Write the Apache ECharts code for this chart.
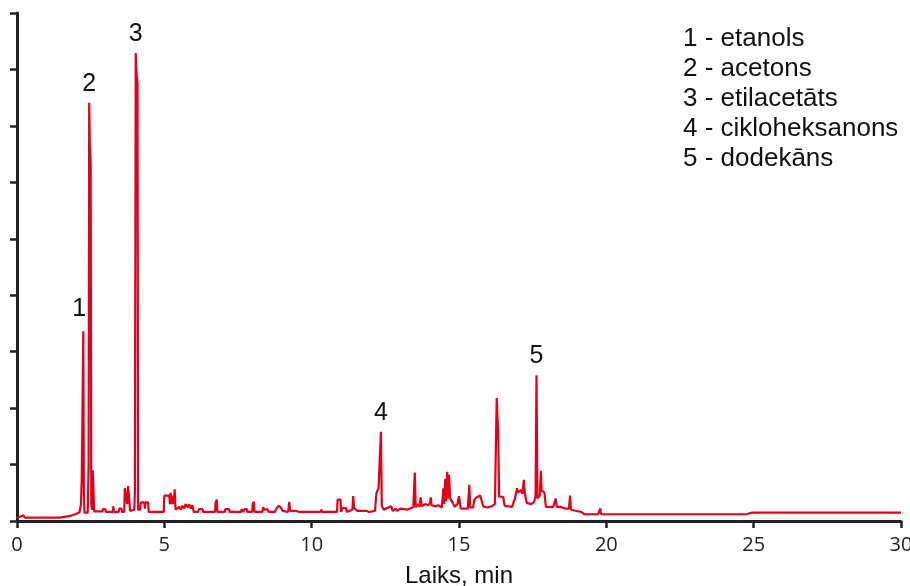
<!DOCTYPE html>
<html>
<head>
<meta charset="utf-8">
<script src="https://cdn.jsdelivr.net/npm/echarts@6/dist/echarts.min.js"></script>
<style>
  html, body { margin: 0; padding: 0; background: #fff; }
  #chart { width: 910px; height: 586px; }
</style>
</head>
<body>
<div id="chart"></div>
<script>
// x ticks (min)
const xTicks = [0, 5, 10, 15, 20, 25, 30]

// chromatogram trace: [retention time, response]
const trace = [
  [0, 0.06], [0.08, 0.07], [0.1, 0.1], [0.22, 0.1], [0.27, 0.06], [1.45, 0.06], [1.47, 0.09],
  [1.8, 0.09], [1.82, 0.12], [1.97, 0.12], [1.99, 0.15], [2.12, 0.15],
  [2.17, 0.3], [2.2, 0.78], [2.22, 0.8], [2.25, 3.36], [2.27, 0.5], [2.29, 0.15], [2.4, 0.15],
  [2.43, 1.0], [2.45, 7.41], [2.47, 6.67], [2.5, 6.35], [2.52, 0.3], [2.55, 0.2], [2.57, 0.9],
  [2.6, 0.9], [2.62, 0.17], [2.9, 0.17], [2.92, 0.21], [3.0, 0.21], [3.02, 0.16], [3.25, 0.16],
  [3.27, 0.26], [3.29, 0.16], [3.45, 0.16], [3.47, 0.22], [3.55, 0.22], [3.57, 0.16], [3.64, 0.16],
  [3.66, 0.58], [3.72, 0.6], [3.74, 0.3], [3.77, 0.62], [3.82, 0.62], [3.84, 0.18], [3.98, 0.2],
  [4.0, 0.5], [4.03, 8.29], [4.06, 7.9], [4.09, 7.75], [4.11, 0.2], [4.18, 0.2], [4.2, 0.33],
  [4.32, 0.33], [4.34, 0.22], [4.36, 0.33], [4.45, 0.33], [4.47, 0.16], [4.98, 0.16],
  [5.0, 0.45], [5.17, 0.45], [5.19, 0.3], [5.21, 0.5], [5.25, 0.3], [5.27, 0.45], [5.33, 0.3],
  [5.35, 0.56], [5.38, 0.2], [5.5, 0.25], [5.56, 0.2], [5.6, 0.27], [5.68, 0.22], [5.72, 0.3],
  [5.8, 0.24], [5.84, 0.3], [5.9, 0.22], [5.95, 0.28], [6.0, 0.16], [6.15, 0.16], [6.17, 0.21],
  [6.3, 0.21], [6.32, 0.16], [6.72, 0.16], [6.74, 0.33], [6.78, 0.38], [6.8, 0.16], [7.05, 0.16],
  [7.07, 0.21], [7.2, 0.21], [7.22, 0.16], [7.6, 0.16], [7.62, 0.21], [7.68, 0.16], [7.72, 0.21],
  [7.8, 0.21], [7.82, 0.16], [7.98, 0.16], [8.0, 0.3], [8.04, 0.34], [8.06, 0.16], [8.33, 0.16],
  [8.35, 0.24], [8.4, 0.2], [8.5, 0.21], [8.55, 0.16], [8.75, 0.16], [8.8, 0.22], [8.88, 0.27],
  [8.95, 0.24], [9.02, 0.18], [9.2, 0.16], [9.24, 0.34], [9.27, 0.18], [9.45, 0.18], [9.5, 0.21],
  [9.6, 0.16], [10.3, 0.16], [10.33, 0.2], [10.36, 0.16], [10.86, 0.16], [10.88, 0.38],
  [10.98, 0.38], [11.0, 0.16], [11.05, 0.23], [11.17, 0.23], [11.19, 0.16], [11.38, 0.2],
  [11.41, 0.44], [11.44, 0.23], [11.55, 0.18], [11.85, 0.18], [11.9, 0.2], [11.95, 0.16],
  [12.15, 0.18], [12.2, 0.5], [12.27, 0.58], [12.32, 0.6], [12.35, 1.58], [12.38, 0.27],
  [12.45, 0.2], [12.6, 0.24], [12.7, 0.26], [12.75, 0.18], [12.85, 0.22], [12.9, 0.18],
  [13.0, 0.22], [13.25, 0.2], [13.45, 0.25], [13.5, 0.86], [13.53, 0.24], [13.6, 0.3],
  [13.66, 0.26], [13.7, 0.42], [13.73, 0.26], [13.85, 0.3], [13.95, 0.28], [14.02, 0.32],
  [14.04, 0.42], [14.07, 0.28], [14.2, 0.26], [14.3, 0.28], [14.42, 0.24], [14.47, 0.58],
  [14.5, 0.3], [14.53, 0.75], [14.56, 0.35], [14.6, 0.87], [14.63, 0.4], [14.66, 0.82],
  [14.7, 0.4], [14.78, 0.33], [14.85, 0.25],
  [14.95, 0.3], [15.0, 0.44], [15.03, 0.46], [15.06, 0.22], [15.3, 0.22], [15.35, 0.64],
  [15.38, 0.24], [15.48, 0.24], [15.52, 0.38], [15.6, 0.42], [15.72, 0.45], [15.78, 0.42],
  [15.82, 0.26], [15.95, 0.24], [16.1, 0.26], [16.22, 0.3], [16.28, 2.18], [16.31, 1.79],
  [16.33, 1.6], [16.36, 0.43], [16.5, 0.43], [16.55, 0.27], [16.8, 0.25], [16.9, 0.4],
  [16.97, 0.58], [17.0, 0.5], [17.1, 0.55], [17.15, 0.48], [17.2, 0.73], [17.23, 0.5],
  [17.3, 0.32], [17.45, 0.3], [17.55, 0.34], [17.6, 0.45], [17.63, 2.58], [17.66, 0.4],
  [17.74, 0.45], [17.78, 0.89], [17.8, 0.55], [17.9, 0.5], [17.95, 0.25], [18.2, 0.25],
  [18.28, 0.4], [18.32, 0.25], [18.45, 0.25], [18.6, 0.22], [18.73, 0.22], [18.77, 0.45],
  [18.8, 0.2], [19.15, 0.16], [19.25, 0.12], [19.72, 0.12], [19.76, 0.18], [19.8, 0.22],
  [19.82, 0.12], [24.75, 0.12], [24.8, 0.14], [24.95, 0.15], [30, 0.15]
]

// peak numbers and where they sit
const peakNames = ['1', '2', '3', '4', '5']
const peakTimes = [2.25, 2.45, 4.03, 12.35, 17.63]
const peakHeights = [3.36, 7.41, 8.29, 1.58, 2.58]

// legend text
const compounds = ['etanols', 'acetons', 'etilacetāts', 'cikloheksanons', 'dodekāns']

const axisColor = '#222'
const chart = echarts.init(document.getElementById('chart'))

const option = {
  animation: false,
  grid: { left: 17, right: 9, top: 13, bottom: 65, outerBoundsMode: 'none' },
  xAxis: {
    type: 'value',
    min: 0,
    max: 30,
    interval: 5,
    name: 'Laiks, min',
    nameLocation: 'middle',
    nameGap: 43,
    nameTextStyle: { fontFamily: 'Liberation Sans', fontSize: 24, color: '#111' },
    axisLine: { lineStyle: { color: axisColor, width: 3 } },
    axisTick: { show: true, length: 7, lineStyle: { color: axisColor, width: 2.5 } },
    axisLabel: {
      margin: 14,
      fontFamily: 'Open Sans',
      fontSize: 20,
      color: '#222',
      formatter: v => (xTicks.includes(v) ? String(v) : '')
    },
    splitLine: { show: false }
  },
  yAxis: {
    type: 'value',
    min: 0,
    max: 9,
    interval: 1,
    axisLine: { show: true, lineStyle: { color: axisColor, width: 3 } },
    axisTick: { show: true, length: 7, lineStyle: { color: axisColor, width: 2.5 } },
    axisLabel: { show: false },
    splitLine: { show: false }
  },
  graphic: [
    {
      type: 'text',
      left: 683,
      top: 24,
      style: {
        text: compounds.map((c, i) => peakNames[i] + ' - ' + c).join('\n'),
        font: '26px "Liberation Sans", Arial, sans-serif',
        lineHeight: 30,
        fill: '#111'
      }
    }
  ],
  series: [
    {
      type: 'line',
      data: trace,
      showSymbol: false,
      lineStyle: { color: '#e4001b', width: 2.2 },
      z: 3
    },
    {
      type: 'scatter',
      symbolSize: 1,
      itemStyle: { color: 'rgba(0,0,0,0)', opacity: 1 },
      data: peakTimes.map((t, i) => ({
        value: [t, peakHeights[i]],
        label: { offset: i === 0 ? [-4, -3] : [0, 0] }
      })),
      label: {
        show: true,
        position: 'top',
        distance: 6,
        formatter: p => peakNames[p.dataIndex],
        fontFamily: 'Liberation Sans',
        fontSize: 25,
        color: '#111',
        opacity: 1
      },
      z: 4
    }
  ]
}

chart.setOption(option)
</script>
</body>
</html>
